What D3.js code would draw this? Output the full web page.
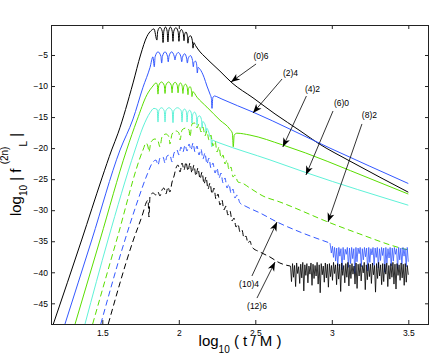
<!DOCTYPE html>
<html>
<head>
<meta charset="utf-8">
<script src="https://cdnjs.cloudflare.com/ajax/libs/d3/7.8.5/d3.min.js"></script>
<style>
  body { margin: 0; background: #fff; }
  svg { display: block; font-family: "Liberation Sans", Arial, Helvetica, sans-serif; }
  .axis text { font-size: 8.5px; fill: #000; }
  .axis line { stroke: #222; }
  .axis path { display: none; }
  .frame { fill: none; stroke: #222; stroke-width: 1; }
  .series { fill: none; stroke-width: 1; }
  .tail { fill: none; stroke-width: 0.8; }
  .note line { stroke: #000; stroke-width: 0.8; }
  .note path { fill: #000; }
  .note text { font-size: 8.5px; }
</style>
</head>
<body>
<script>
///////////////////////////////////////////////////////
// data

var xTicks = [1.5, 2, 2.5, 3, 3.5];
var yTicks = [-45, -40, -35, -30, -25, -20, -15, -10, -5];

var seriesNames = ["(0)6", "(2)4", "(4)2", "(6)0", "(8)2", "(10)4", "(12)6"];

// [log10(t/M), log10|f|]
var s06 = [[1.180,-48.33],[1.365,-34.80],[1.498,-24.8],[1.561,-20.3],[1.603,-17.6],[1.701,-9.5],[1.750,-5.0],[1.792,-2.0],[1.818,-1.1],[1.838,-0.8],
  [1.857,-2.6],[1.862,-1.2],[1.877,-0.55],[1.892,-1.2],
  [1.897,-3.0],[1.902,-1.2],[1.913,-0.5],[1.924,-1.2],
  [1.929,-2.9],[1.934,-1.2],[1.945,-0.5],[1.957,-1.2],
  [1.962,-2.8],[1.967,-1.2],[1.981,-0.6],[1.996,-1.3],
  [2.001,-2.8],[2.006,-1.4],[2.017,-0.9],[2.029,-1.5],
  [2.034,-2.7],[2.038,-1.7],[2.047,-1.3],[2.056,-1.9],
  [2.060,-3.1],[2.064,-2.2],[2.076,-1.9],[2.088,-2.6],
  [2.093,-3.9],[2.098,-3.0],[2.110,-3.5],[2.139,-4.5],[2.171,-5.3],[2.204,-6.1],[2.269,-7.6],[2.348,-9.5],
  [2.485,-11.9],[2.629,-14.5],[2.792,-17.2],[2.910,-19.2],[3.119,-22.1],[3.315,-24.7],[3.5,-27.1]];

var s24 = [[1.256,-48.33],[1.431,-34.80],[1.616,-20.3],[1.701,-15.3],[1.766,-10.2],[1.812,-7.0],[1.831,-5.3],
  [1.840,-6.9],[1.845,-5.3],[1.864,-4.5],[1.883,-5.2],
  [1.888,-6.3],[1.893,-5.2],[1.910,-4.5],[1.926,-5.2],
  [1.931,-6.1],[1.936,-5.2],[1.953,-4.5],[1.970,-5.2],
  [1.975,-5.8],[1.980,-5.2],[1.997,-4.6],[2.014,-5.3],
  [2.019,-6.1],[2.024,-5.4],[2.038,-4.8],[2.051,-5.5],
  [2.056,-6.3],[2.061,-5.6],[2.076,-5.1],[2.090,-5.9],
  [2.095,-6.9],[2.099,-6.2],[2.110,-6.0],[2.117,-6.6],
  [2.121,-7.9],[2.126,-7.0],[2.139,-7.3],[2.165,-8.6],[2.184,-10.0],[2.204,-11.3],[2.213,-12.0],
  [2.217,-13.6],[2.222,-11.9],[2.233,-11.6],[2.256,-11.8],[2.282,-12.1],[2.485,-14.2],[2.988,-20.0],[3.5,-25.7]];

var s42 = [[1.322,-48.33],[1.485,-34.80],[1.659,-20.3],[1.727,-15.5],[1.792,-11.4],[1.831,-10.0],[1.851,-9.5],[1.859,-9.7],
  [1.864,-11.3],[1.869,-9.9],[1.887,-9.35],[1.905,-9.9],
  [1.910,-11.2],[1.915,-9.9],[1.933,-9.35],[1.951,-9.9],
  [1.956,-11.1],[1.961,-9.9],[1.976,-9.4],[1.990,-9.9],
  [1.995,-11.1],[2.000,-10.0],[2.011,-9.5],[2.022,-10.0],
  [2.027,-11.2],[2.032,-10.1],[2.044,-9.7],[2.055,-10.2],
  [2.060,-11.4],[2.064,-10.4],[2.074,-10.1],[2.082,-10.6],
  [2.086,-11.7],[2.091,-10.9],[2.119,-11.8],[2.184,-13.4],[2.269,-15.5],[2.335,-17.0],[2.350,-17.6],
  [2.356,-19.8],[2.362,-17.9],[2.380,-17.6],[2.465,-17.9],[2.680,-19.5],[3.269,-25.1],[3.5,-27.4]];

var s60 = [[1.387,-48.33],[1.537,-34.80],[1.714,-20.3],[1.766,-16.6],[1.812,-14.3],[1.838,-13.6],[1.859,-13.8],
  [1.864,-15.8],[1.869,-14.0],[1.887,-13.5],[1.905,-14.0],
  [1.910,-15.8],[1.915,-14.0],[1.936,-13.5],[1.957,-14.0],
  [1.962,-15.9],[1.967,-14.0],[1.991,-13.5],[2.016,-14.0],
  [2.021,-15.8],[2.026,-14.1],[2.038,-13.7],[2.050,-14.2],
  [2.054,-15.8],[2.059,-14.3],[2.071,-13.9],[2.082,-14.4],
  [2.086,-16.0],[2.091,-14.6],[2.103,-14.2],[2.115,-14.8],
  [2.119,-16.3],[2.124,-15.0],[2.136,-14.8],[2.148,-15.4],
  [2.152,-16.8],[2.157,-15.7],[2.165,-15.9],[2.175,-16.5],
  [2.178,-17.6],[2.183,-16.8],[2.195,-17.4],[2.204,-18.1],[2.210,-18.4],
  [2.215,-19.8],[2.220,-18.7],[2.237,-18.9],[2.269,-19.2],[2.596,-21.9],[2.838,-24.0],[3.5,-29.2]];

var s82 = [[1.437,-48.33],[1.594,-34.80],[1.766,-20.30],[1.786,-19.18],[1.799,-19.82],[1.805,-20.63],[1.818,-19.02],
  [1.844,-18.53],[1.864,-18.85],[1.877,-19.82],[1.890,-18.21],[1.916,-17.73],[1.936,-18.21],[1.942,-19.34],
  [1.956,-17.73],[1.982,-17.24],[2.001,-17.56],[2.008,-18.69],[2.021,-17.08],[2.047,-16.76],[2.067,-17.08],
  [2.073,-18.21],[2.086,-16.11],[2.106,-15.95],[2.119,-16.76],[2.132,-16.11],[2.145,-17.40],[2.158,-16.60],
  [2.171,-18.05],[2.184,-17.24],[2.197,-18.69],[2.210,-17.89],[2.223,-19.66],[2.237,-18.85],[2.250,-20.63],
  [2.263,-19.82],[2.276,-21.59],[2.289,-21.11],[2.302,-22.56],[2.315,-21.92],[2.328,-23.53],[2.341,-23.04],
  [2.354,-24.65],[2.367,-24.33],[2.387,-25.46],[2.413,-25.62],[2.465,-26.43],[2.550,-27.71],[2.661,-28.68],
  [2.727,-29.32],[2.975,-31.90],[3.184,-33.84],[3.426,-35.93],[3.5,-36.41]];

var s104 = [[1.490,-48.33],[1.648,-34.80],[1.733,-28.36],[1.792,-24.33],[1.831,-22.24],[1.851,-21.92],[1.864,-22.72],
  [1.877,-21.59],[1.897,-21.43],[1.910,-22.40],[1.923,-21.27],[1.942,-21.11],[1.956,-22.24],[1.969,-20.79],
  [1.988,-20.30],[2.001,-21.11],[2.014,-19.82],[2.027,-20.63],[2.041,-19.50],[2.054,-20.47],[2.067,-19.34],
  [2.080,-20.30],[2.093,-19.18],[2.106,-20.63],[2.119,-19.66],[2.132,-21.11],[2.145,-20.14],[2.158,-21.76],
  [2.171,-20.79],[2.184,-22.56],[2.197,-21.59],[2.210,-23.20],[2.223,-22.40],[2.237,-24.01],[2.250,-23.20],
  [2.263,-24.81],[2.276,-24.01],[2.289,-25.62],[2.302,-24.81],[2.315,-26.43],[2.328,-25.78],[2.341,-27.23],
  [2.354,-26.59],[2.367,-28.04],[2.380,-27.55],[2.400,-28.84],[2.433,-29.32],[2.531,-30.45],[2.642,-31.90],
  [2.792,-33.51],[2.988,-35.29]];
var s104TailRange = [2.99, 3.5];
var s104Tail = [-35.6,-36.9,-35.8,-37.6,-36.0,-38.2,-36.1,-39.0,-36.0,-37.4,-36.2,-39.6,-36.0,-38.0,-36.3,-37.1,
  -36.0,-39.2,-36.1,-38.6,-36.0,-37.8,-36.2,-40.2,-36.0,-38.3,-36.1,-37.0,-36.0,-39.1,-36.2,-38.0,-36.0,-37.5,
  -36.1,-39.8,-36.0,-38.4,-36.2,-37.2,-36.0,-38.9,-36.1,-37.6,-36.0,-39.3,-36.2,-38.1,-36.0,-37.3,-36.1,-40.0,
  -36.0,-38.5,-36.2,-37.7,-36.0,-39.0,-36.1,-38.2,-36.0,-37.1,-36.2,-39.4,-36.0,-38.0,-36.1,-38.7,-36.0,-37.4,
  -36.2,-39.1,-36.0,-38.3];

var s126 = [[1.539,-48.33],[1.703,-34.80],[1.766,-30.45],[1.786,-28.84],[1.799,-28.36],[1.805,-31.10],[1.812,-27.71],
  [1.831,-27.23],[1.851,-27.55],[1.864,-27.07],[1.877,-27.71],[1.890,-26.75],[1.903,-26.43],[1.916,-27.39],
  [1.929,-26.26],[1.942,-27.07],[1.956,-25.46],[1.969,-24.49],[1.982,-23.20],[1.995,-22.72],[2.008,-23.85],
  [2.021,-22.40],[2.034,-23.53],[2.047,-22.24],[2.060,-23.69],[2.073,-22.40],[2.086,-24.01],[2.099,-22.72],
  [2.112,-24.49],[2.125,-23.20],[2.139,-24.97],[2.152,-23.85],[2.165,-25.78],[2.178,-24.65],[2.191,-26.59],
  [2.204,-25.62],[2.217,-27.39],[2.230,-26.43],[2.243,-28.20],[2.256,-27.39],[2.269,-29.16],[2.282,-28.36],
  [2.295,-29.97],[2.308,-29.32],[2.321,-30.78],[2.335,-30.13],[2.348,-31.74],[2.361,-31.26],[2.374,-32.71],
  [2.387,-32.23],[2.400,-33.51],[2.413,-33.19],[2.426,-34.48],[2.439,-34.16],[2.452,-35.29],[2.465,-34.96],
  [2.478,-35.93],[2.531,-36.74],[2.596,-37.54],[2.661,-38.51],[2.727,-38.99]];
var s126TailRange = [2.73, 3.5];
var s126Tail = [-39.0,-41.5,-38.6,-40.8,-38.9,-42.3,-38.5,-40.2,-39.1,-41.8,-38.7,-40.9,-38.4,-43.0,-38.8,-40.5,
  -38.6,-41.7,-39.0,-40.3,-38.5,-42.1,-38.7,-41.0,-38.9,-40.6,-38.4,-41.9,-38.8,-43.3,-38.6,-40.4,-39.0,-41.6,
  -38.5,-40.9,-38.7,-42.4,-38.6,-40.7,-38.9,-41.3,-38.4,-40.2,-38.8,-42.0,-38.6,-41.1,-38.7,-43.1,-38.5,-40.5,
  -38.9,-41.7,-38.6,-40.8,-38.4,-42.2,-38.8,-41.0,-38.6,-40.3,-39.0,-41.9,-38.5,-42.6,-38.7,-40.6,-38.6,-41.4,
  -38.9,-40.1,-38.4,-42.8,-38.8,-41.2,-38.6,-40.7,-38.7,-41.8,-38.5,-40.4,-38.9,-43.2,-38.6,-41.0,-38.4,-40.6,
  -38.8,-42.0,-38.6,-41.5,-38.7,-40.3,-38.5,-42.3,-38.9,-41.1,-38.6,-40.8,-38.4,-41.9,-38.7,-42.7,-38.6,-40.5,
  -38.8,-41.3,-38.5,-40.9,-38.7,-42.1,-38.6,-41.6,-38.9,-40.4];

// arrow annotations in data units: text anchor, tail, tip
var notes = [
  { label: "(0)6",  text: [2.537, -5.64],  from: [2.505, -6.45],  to: [2.341, -9.35] },
  { label: "(2)4",  text: [2.730, -8.38],  from: [2.675, -8.87],  to: [2.485, -14.34] },
  { label: "(4)2",  text: [2.874, -10.96], from: [2.834, -11.61], to: [2.680, -19.82] },
  { label: "(6)0",  text: [3.063, -13.22], from: [3.008, -14.02], to: [2.831, -24.33] },
  { label: "(8)2",  text: [3.246, -15.15], from: [3.197, -16.11], to: [2.975, -31.90] },
  { label: "(10)4", text: [2.459, -42.38], from: [2.478, -40.60], to: [2.642, -31.90] },
  { label: "(12)6", text: [2.511, -45.92], from: [2.511, -44.15], to: [2.629, -38.35] }
];

///////////////////////////////////////////////////////
// margins

var w = 436;
var h = 359;
var margin = { top: 25, bottom: 35, left: 51, right: 7 };
var width = w - margin.left - margin.right,
    height = h - margin.top - margin.bottom;

var svg = d3.select("body").append("svg")
  .attr("width", w)
  .attr("height", h);

///////////////////////////////////////////////////////
// scales

var x = d3.scaleLinear().domain([1.1647, 3.6353]).range([0, width]);
var y = d3.scaleLinear().domain([-48.33, -0.17]).range([height, 0]);

var colors = ["#000000", "#3358ff", "#5ade00", "#5ff2d8", "#5ade00", "#3358ff", "#000000"];
var dashed = [false, false, false, false, true, true, true];

// noisy tails: index -> x through a linear scale, joined to the last smooth point
function tailPoints(pts, range, vals) {
  var ix = d3.scaleLinear().domain([0, vals.length - 1]).range(range);
  return [pts[pts.length - 1]].concat(vals.map(function(v, i) { return [ix(i), v]; }));
}

var allSeries = [s06, s24, s42, s60, s82, s104, s126];
var tails = [
  { i: 5, pts: tailPoints(s104, s104TailRange, s104Tail) },
  { i: 6, pts: tailPoints(s126, s126TailRange, s126Tail) }
];

///////////////////////////////////////////////////////
// DOM

var chart = svg.append("g")
  .attr("transform", "translate(" + margin.left + "," + margin.top + ")");

chart.append("clipPath").attr("id", "clip")
  .append("rect").attr("width", width).attr("height", height);

// axes (ticks inside, mirrored on top / right)
chart.append("g").classed("axis x", true)
  .attr("transform", "translate(0," + height + ")")
  .call(d3.axisBottom(x).tickValues(xTicks).tickSizeInner(-4).tickSizeOuter(0).tickPadding(6)
    .tickFormat(d3.format("")));
chart.append("g").classed("axis", true)
  .call(d3.axisTop(x).tickValues(xTicks).tickSizeInner(-4).tickSizeOuter(0).tickFormat(""));
chart.append("g").classed("axis y", true)
  .call(d3.axisLeft(y).tickValues(yTicks).tickSizeInner(-4).tickSizeOuter(0).tickPadding(3)
    .tickFormat(d3.format("")));
chart.append("g").classed("axis", true)
  .attr("transform", "translate(" + width + ",0)")
  .call(d3.axisRight(y).tickValues(yTicks).tickSizeInner(-4).tickSizeOuter(0).tickFormat(""));

///////////////////////////////////////////////////////
// plot

var line = d3.line()
  .x(function(d) { return x(d[0]); })
  .y(function(d) { return y(d[1]); })
  .curve(d3.curveMonotoneX);

var plotArea = chart.append("g").attr("clip-path", "url(#clip)");

plotArea.selectAll(".series")
  .data(allSeries)
  .enter().append("path")
  .classed("series", true)
  .attr("d", line)
  .style("stroke", function(d, i) { return colors[i]; })
  .style("stroke-dasharray", function(d, i) { return dashed[i] ? "6,3.5" : null; });

// dense noise is so tight that the dashes merge into a band
plotArea.selectAll(".tail")
  .data(tails)
  .enter().append("path")
  .classed("tail", true)
  .attr("d", function(d) { return d3.line()
    .x(function(p) { return x(p[0]); })
    .y(function(p) { return y(p[1]); })(d.pts); })
  .style("stroke", function(d) { return colors[d.i]; });

chart.append("rect").classed("frame", true)
  .attr("x", 0.5).attr("y", 0.5)
  .attr("width", width - 1).attr("height", height);

// annotations
var note = chart.selectAll(".note")
  .data(notes)
  .enter().append("g")
  .classed("note", true);

note.append("text")
  .attr("x", function(d) { return x(d.text[0]); })
  .attr("y", function(d) { return y(d.text[1]); })
  .attr("text-anchor", "middle")
  .text(function(d) { return d.label; });

note.append("line")
  .attr("x1", function(d) { return x(d.from[0]); })
  .attr("y1", function(d) { return y(d.from[1]); })
  .attr("x2", function(d) { return x(d.to[0]); })
  .attr("y2", function(d) { return y(d.to[1]); });

note.append("path")
  .attr("d", "M0,0L-9,-3.5L-6.5,0L-9,3.5Z")
  .attr("transform", function(d) {
    var x1 = x(d.from[0]), y1 = y(d.from[1]), x2 = x(d.to[0]), y2 = y(d.to[1]);
    var a = Math.atan2(y2 - y1, x2 - x1) * 180 / Math.PI;
    return "translate(" + x2 + "," + y2 + ") rotate(" + a + ")";
  });

// axis titles
var xt = svg.append("text")
  .attr("x", 240).attr("y", 346)
  .attr("text-anchor", "middle")
  .style("font-size", "15px");
xt.append("tspan").text("log");
xt.append("tspan").attr("dy", 7).style("font-size", "10px").text("10");
xt.append("tspan").attr("dy", -7).text(" ( t / M )");

var yt = svg.append("text")
  .attr("transform", "translate(20.5,174.5) rotate(-90)")
  .attr("text-anchor", "middle")
  .style("font-size", "15px");
yt.append("tspan").text("log");
yt.append("tspan").attr("dy", 6).style("font-size", "10px").text("10");
yt.append("tspan").attr("dy", -6).text(" | f ");
yt.append("tspan").attr("dy", -12.5).style("font-size", "10px").text("(2n)");
yt.append("tspan").attr("dy", 19).style("font-size", "10px").text("L");
yt.append("tspan").attr("dy", -6.5).text(" |");
</script>
</body>
</html>
